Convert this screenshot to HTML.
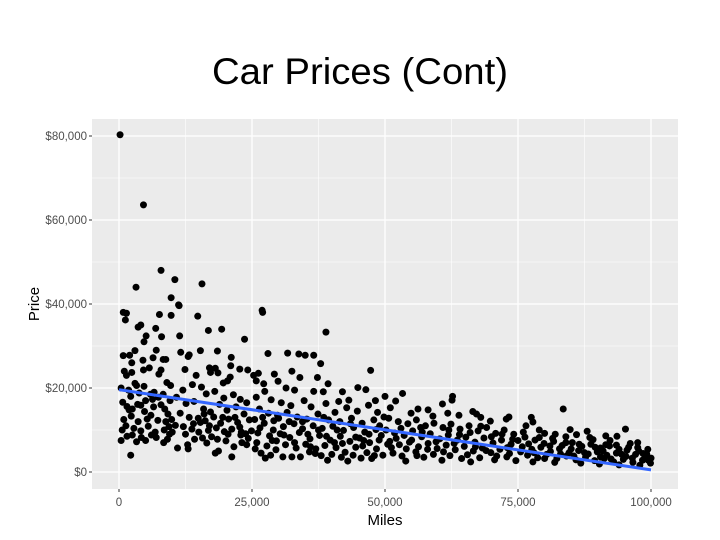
<!DOCTYPE html>
<html><head><meta charset="utf-8"><style>
body{margin:0;background:#fff;width:720px;height:540px;overflow:hidden}
svg{display:block;font-family:"Liberation Sans",sans-serif}
</style></head><body>
<svg id="c" width="720" height="540">
<text x="360" y="84" text-anchor="middle" font-size="37" fill="#000" textLength="296" lengthAdjust="spacingAndGlyphs">Car Prices (Cont)</text>
</svg>
<script>
const xTicks=[0,25000,50000,75000,100000];
const xTickLabels=["0","25,000","50,000","75,000","100,000"];
const yTicks=[0,20000,40000,60000,80000];
const yTickLabels=["$0","$20,000","$40,000","$60,000","$80,000"];
const milesK=[];const priceK=[];
const pts=[[0.2,80.3],[4.6,63.6],[7.9,48],[10.5,45.8],[3.2,44],[9.8,41.5],[11.2,39.8],[0.8,38],[1.4,37.8],[1.2,36.2],[7.6,37.5],[9.8,37.3],[3.6,34.5],[4.1,35],[6.9,34.2],[5.1,32.4],[8.0,32.2],[4.7,31],[0.8,27.7],[2.0,27.8],[3.0,28.9],[2.4,26.0],[7.0,29],[8.3,26.8],[6.4,27.2],[4.5,26.6],[1.4,23],[2.4,23.7],[1.0,24],[4.6,24.3],[5.7,24.8],[7.9,24.3],[7.5,23.3],[8.8,26.8],[9.0,21.3],[3.0,21.1],[4.7,20.4],[3.3,20.6],[0.4,20],[6.6,19],[5.9,18.5],[9.7,20.6],[8.3,18.5],[2.2,18],[7.4,17.8],[0.7,16.6],[1.5,15.6],[3.5,16.1],[4.1,15.9],[6.3,17.3],[7.9,16],[9.6,17],[1.9,14.8],[2.5,15],[4.8,14.4],[6.0,13.5],[8.6,15],[9.2,13.8],[0.9,12.5],[2.3,13.3],[3.6,12],[5.3,12.6],[7.3,12.3],[8.8,12],[1.3,11],[2.8,10.4],[4.1,9.8],[5.5,10.9],[6.8,9.5],[9.4,10.8],[0.6,10],[2.5,8.8],[4.2,8.2],[6.1,8.8],[7.0,8.2],[9.1,7.8],[0.4,7.5],[3.3,7.2],[8.4,7],[2.2,4.0],[10.0,9.5],[9.9,12.5],
[15.6,44.8],[11.3,39.6],[14.8,37.1],[16.8,33.7],[19.3,34],[18.5,28.8],[11.4,32.4],[13.2,27.9],[11.6,28.5],[15.3,28.9],[21.1,27.3],[23.6,31.6],[13,27.5],[12.4,24.4],[14.5,23],[17,24.8],[17.2,23.7],[18.1,24.7],[18.6,23.6],[20.4,21.7],[20.9,22.6],[19.6,21.2],[21,25.3],[22.7,24.5],[24.2,24.3],[12.0,19.5],[13.8,20.8],[15.5,20.2],[16.4,18.6],[18.0,19.2],[19.7,17.6],[21.5,18.4],[22.8,17.3],[24.0,16.5],[10.8,17.8],[12.6,16.3],[14.1,16.8],[15.9,15],[17.2,14.3],[18.9,16.1],[20.3,14.7],[22.0,15.5],[23.5,13.8],[11.5,14],[13.2,13],[14.9,12.8],[16.2,12.2],[17.8,13.1],[19.1,11.6],[20.6,12.6],[22.3,11.8],[24.5,12.4],[10.6,11.1],[12.1,10.8],[13.7,10.2],[15.3,11.8],[16.8,9.9],[18.3,10.5],[19.8,9.6],[21.2,10.2],[22.7,10.7],[23.8,9.1],[11.0,5.7],[12.9,6.5],[14.2,7.8],[15.7,8.1],[17.4,8.4],[18.7,5],[20.1,7.4],[21.6,6],[23.1,7],[24.3,8],[18.1,4.5],[21.2,3.6],[13.0,5.5],[16.5,6.9],[22.9,8.8],[24.9,9.8],
[26.9,38.5],[27,38],[28,28.2],[38.9,33.3],[35,27.8],[33.8,28.1],[31.7,28.3],[36.6,27.8],[37.9,25.8],[25.3,23],[26.2,23.5],[25.8,21.7],[27.2,21],[29.2,23.3],[32.5,24],[34,22.5],[37.3,22.5],[39.3,21],[29.9,21.6],[31.4,20],[27.4,19.2],[33,19.5],[36.6,19.2],[38.4,19.1],[42,19.1],[44.9,20.1],[46.4,19.6],[48.2,17],[41.3,16.8],[43.2,17.1],[47.3,24.2],[25.8,17.8],[28.6,17.2],[30.5,16.5],[32.3,15.8],[34.8,17],[36.1,15.5],[38.9,16.3],[40.6,14.2],[42.8,15.3],[44.8,14.5],[46.9,15.9],[48.6,14.2],[26.4,15],[28.1,14],[29.8,13.5],[31.6,14.2],[33.5,13.1],[35.3,12.6],[37.4,13.8],[39.4,12.4],[41.5,12],[43.7,12.8],[45.7,11.6],[47.9,12.4],[49.8,13.1],[25.5,12.5],[27.3,11.6],[29.1,12.2],[30.9,10.8],[32.9,11.5],[34.5,10.3],[36.5,11],[38.2,10.4],[40.2,10.9],[42.2,9.9],[44.1,10.6],[46.2,9.5],[48.3,10.1],[49.3,8.7],[26.1,9.3],[28.3,8.6],[30.3,9.1],[32.1,8.2],[33.9,9.4],[35.9,7.9],[37.7,8.7],[39.7,7.6],[41.6,8.5],[43.4,7.3],[45.2,8.1],[47.1,7],[48.9,7.6],[25.9,7],[27.8,6.2],[29.6,7.4],[31.3,6.5],[33.3,5.7],[35.1,6.6],[37,5.5],[38.7,6.3],[40.8,5.8],[42.5,4.7],[44.5,5.9],[46.6,4.6],[48.4,5.5],[26.7,4.5],[30.8,3.6],[34.1,3.6],[36.9,4.4],[39.2,2.8],[41.8,3.5],[45.5,3.3],[49.6,4],[27.5,3.3],[43,2.6],[47.5,3.2],[29,10],[32,12],[35.5,9],[38.5,13],
[53.3,18.7],[50,18],[52,16.9],[62.7,18],[62.6,17.1],[60.8,16.2],[51,15.3],[58.1,14.8],[54.9,14],[56.2,15],[59,13.3],[61.8,14],[63.9,13.5],[66.5,14.4],[67.2,13.8],[68,13],[72.8,12.6],[73.3,13.1],[77.5,13],[77.8,11.9],[50.7,12.8],[52.5,12],[54.3,11.5],[55.9,12.4],[57.6,11],[59.2,11.6],[60.9,10.6],[62.4,11.4],[64.1,10.2],[65.8,11],[67.5,9.8],[69.1,10.6],[70.8,9.2],[72.4,10],[74.2,9],[50.2,10],[51.8,9.3],[53.6,8.7],[55.2,9.8],[56.9,8.4],[58.5,9.1],[60.3,7.9],[61.9,8.8],[63.6,7.6],[65.2,8.3],[66.9,7.1],[68.6,8.1],[70.3,6.9],[71.9,7.6],[73.7,6.6],[50.9,7.3],[52.7,6.5],[54.6,7.1],[56.3,6],[58.1,6.8],[59.8,5.6],[61.5,6.4],[63.2,5.3],[64.9,6.1],[66.6,5],[68.3,5.7],[69.9,4.6],[71.6,5.4],[73.4,4.4],[51.5,4.5],[53.2,3.8],[55.8,4.8],[57.3,3.5],[59.1,4.2],[62.2,3.9],[64.4,3.2],[67.8,3.4],[70.6,2.9],[72.9,3.6],[74.6,2.7],[53.9,2.6],[60.7,2.8],[66.1,2.4],[56.7,10.6],[69.8,12.1],[75,7.5],
[83.5,15],[88,9.7],[95.2,10.2],[91.5,8.6],[80,9.2],[79,10],[76.5,11],[81.5,8],[84,8.4],[86,8.9],[92.3,7.5],[97.5,7],[76.3,8.3],[78.2,7.6],[79.9,6.8],[81.7,7.3],[83.3,6.3],[85.2,7],[87,6.1],[88.7,6.6],[90.5,5.7],[92.2,6.2],[94,5.4],[95.8,5.9],[97.7,5],[99.4,5.4],[75.8,6],[77.6,5.4],[79.3,5.9],[81.1,4.9],[82.8,5.5],[84.6,4.6],[86.4,5.1],[88.2,4.3],[89.9,4.8],[91.7,4],[93.5,4.5],[95.3,3.7],[97.1,4.2],[98.9,3.5],[76.8,4],[78.7,3.4],[80.4,4.2],[82.3,3.2],[84.1,3.8],[85.9,2.9],[87.7,3.5],[89.4,2.7],[91.2,3.2],[93,2.4],[94.8,3],[96.6,2.3],[98.4,2.8],[99.9,2.1],[77.8,2.4],[81.9,2.3],[86.8,2.1],[90.3,1.9],[94,1.7],[97.9,1.6],[99.2,4.3],[96.1,6.8],[89.1,7.7],[84.8,10.1],[93.6,8.5],[100,3.3],[85,5.5],[91,5],
[51.2,5.8],[52.1,8],[53,10.4],[54,5.5],[55,7.6],[56,3.9],[57,9.5],[58,5.4],[59.6,7.2],[61,4.8],[62,10],[63,6.8],[64,8.9],[65.5,4.1],[66,9.4],[67,6],[68,10.9],[69,5.1],[70,8.4],[71,3.8],[72,9],[73,5.8],[74,7.8],[75.5,4.8],[76,9.5],[77,6.7],[78,4.6],[79,8.2],[80,3.2],[81,6.2],[82,9],[83,4.3],[84,7],[85.5,3.8],[86.5,6.6],[87.5,4.6],[88.5,8.2],[89.5,5.9],[90.5,3.6],[91.5,6.5],[92.5,3.1],[93.5,6.4],[94.5,4.2],[95.5,5.2],[96.5,3.3],[97.5,5.8],[98.5,4.4],[99.5,2.8],[26.5,10.5],[28.8,7.5],[30,12.8],[31,8.8],[33,7],[34.5,12],[36,6],[37.5,10],[39,8.5],[40,4.2],[41,10],[42,6.8],[43.5,11.5],[44.5,8.3],[45.8,6.2],[47,9],[48,3.9],[49,11],[50.5,6.6],[25.6,5.5],[27,13],[28.5,4],[29.5,5.3],[32.5,3.6],[35.8,4.8],[38,3.9],[40.5,7],[44,4],[46,7.5],[12.5,9],[14,11.5],[15,9.5],[16,13.8],[17,11],[18.5,7.8],[19.5,13],[20.5,9],[21.8,13],[23,9.5],[24,6.5],[1.8,19.5],[3.8,18.8],[5,17],[6.5,15.5],[8.5,10],[9.5,9],[5,7.5],[1.5,8.5]];
pts.forEach(p=>{milesK.push(p[0]);priceK.push(p[1]);});
const fitEnds=[19.6,0.5];

const NS="http://www.w3.org/2000/svg";
const svg=document.getElementById('c');
const PL=92,PR=678,PT=119,PB=489;
const X=v=>119+(v/100000)*532;
const Y=v=>472-(v/80000)*336;
function mk(t,a,p){const e=document.createElementNS(NS,t);for(const k in a)e.setAttribute(k,a[k]);(p||svg).appendChild(e);return e;}
const panel=mk('rect',{x:PL,y:PT,width:PR-PL,height:PB-PT,fill:'#ebebeb'});


const grid=mk('g',{});


for(let i=0;i<xTicks.length-1;i++){const m=(xTicks[i]+xTicks[i+1])/2;mk('line',{x1:X(m),x2:X(m),y1:PT,y2:PB,stroke:'#fff','stroke-width':0.6},grid);}
for(let i=0;i<yTicks.length-1;i++){const m=(yTicks[i]+yTicks[i+1])/2;mk('line',{y1:Y(m),y2:Y(m),x1:PL,x2:PR,stroke:'#fff','stroke-width':0.6},grid);}
xTicks.forEach((v,i)=>{
 mk('line',{x1:X(v),x2:X(v),y1:PT,y2:PB,stroke:'#fff','stroke-width':1.3},grid);
 mk('line',{x1:X(v),x2:X(v),y1:PB,y2:PB+3,stroke:'#333','stroke-width':1});
 const t=mk('text',{x:X(v),y:PB+17,'text-anchor':'middle','font-size':11.5,fill:'#4d4d4d'});
 t.textContent=xTickLabels[i];
 
 
});
yTicks.forEach((v,i)=>{
 mk('line',{y1:Y(v),y2:Y(v),x1:PL,x2:PR,stroke:'#fff','stroke-width':1.3},grid);
 mk('line',{y1:Y(v),y2:Y(v),x1:PL-3,x2:PL,stroke:'#333','stroke-width':1});
 const t=mk('text',{x:PL-5,y:Y(v)+4,'text-anchor':'end','font-size':11.5,fill:'#4d4d4d'});
 t.textContent=yTickLabels[i];
 
 
});
const pg=mk('g',{fill:'#000'});


for(let i=0;i<milesK.length;i++){
 const c=mk('circle',{cx:X(milesK[i]*1000),cy:Y(priceK[i]*1000),r:3.5},pg);
 
 
}
const ln=mk('line',{x1:X(0),y1:Y(fitEnds[0]*1000),x2:X(100000),y2:Y(fitEnds[1]*1000),stroke:'#3366ff','stroke-width':3});


const xt=mk('text',{x:(PL+PR)/2,y:525,'text-anchor':'middle','font-size':15,fill:'#000'});
xt.textContent='Miles';


const yt=mk('text',{x:0,y:0,'text-anchor':'middle','font-size':15,fill:'#000',transform:'translate(39,'+((PT+PB)/2)+') rotate(-90)'});
yt.textContent='Price';


</script>
</body></html>
